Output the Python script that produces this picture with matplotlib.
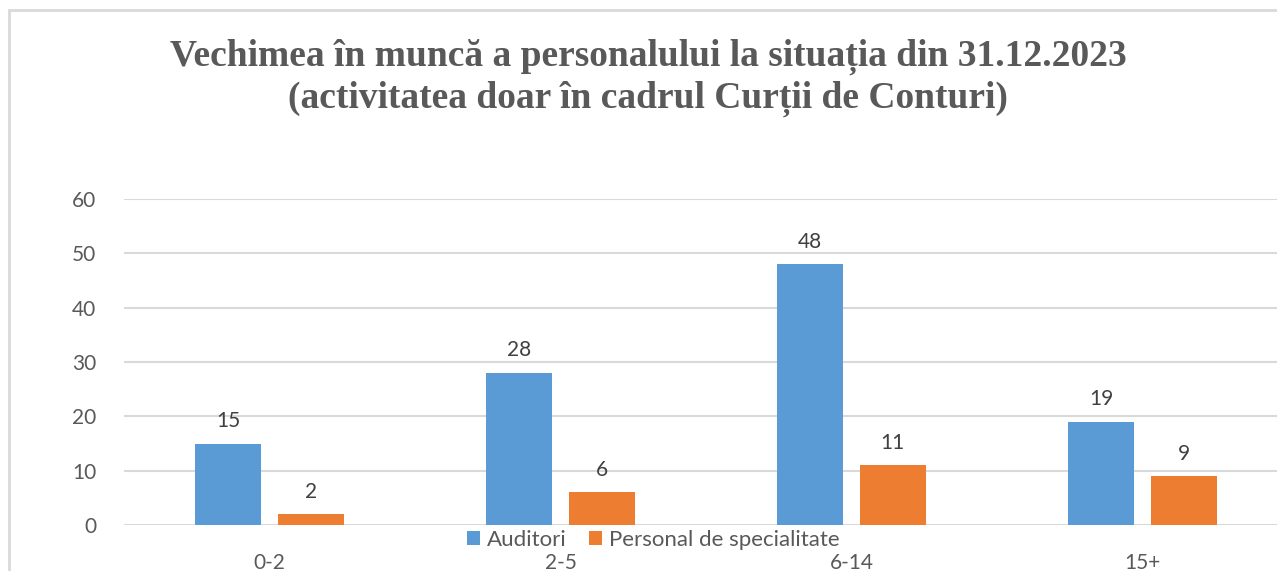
import matplotlib.pyplot as plt
import numpy as np
from matplotlib.patches import Rectangle

categories = ["0-2", "2-5", "6-14", "15+"]
auditori = [15, 28, 48, 19]
personal = [2, 6, 11, 9]
series_names = ["Auditori", "Personal de specialitate"]
title = "Vechimea în muncă a personalului la situația din 31.12.2023\n(activitatea doar în cadrul Curții de Conturi)"

blue = "#5B9BD5"
orange = "#ED7D31"
txt = "#595959"

W, H = 1277, 571
fig = plt.figure(figsize=(W / 100, H / 100), dpi=100)

# chart frame (cropped on right/bottom)
fig.patches.append(Rectangle((9 / W, -0.1), 1.2, 1 - 9 / H + 0.1 - 1 / H,
                             transform=fig.transFigure, fill=False,
                             edgecolor="#d9d9d9", linewidth=2))

# axes: x from 124px, one category = 291px; y 0 at 525px, 60 at 199px
ax = fig.add_axes([124 / W, 1 - 525 / H, 4 * 291 / W, 326 / H])
x = np.arange(len(categories))
w = 0.227
off = 0.142
b1 = ax.bar(x - off, auditori, w, color=blue, label=series_names[0])
b2 = ax.bar(x + off, personal, w, color=orange, label=series_names[1])

for bars, vals in ((b1, auditori), (b2, personal)):
    for r, v in zip(bars, vals):
        ax.text(r.get_x() + r.get_width() / 2, v + 2.3, str(v), ha="center",
                va="bottom", fontsize=15, color="#404040", family="Lato")

ax.set_xlim(-0.5, 3.5)
ax.set_ylim(0, 60)
ax.set_yticks(range(0, 61, 10))
ax.set_xticks(x)
ax.set_xticklabels(categories)
ax.grid(axis="y", color="#d9d9d9", linewidth=1.5)
ax.set_axisbelow(True)
for s in ax.spines.values():
    s.set_visible(False)
ax.tick_params(length=0, labelsize=15, labelcolor=txt, pad=20)
ax.tick_params(axis="x", pad=20)
for t in ax.get_xticklabels() + ax.get_yticklabels():
    t.set_family("Lato")

fig.text(648 / W, 1 - 78 / H, title, ha="center", va="center",
         fontsize=27, fontweight="bold", family="Liberation Serif",
         color=txt, linespacing=1.2)

fig.legend(loc="center", bbox_to_anchor=(653 / W, 1 - 540 / H), ncol=2,
           frameon=False, prop={"family": "Lato", "size": 16},
           labelcolor=txt, handlelength=0.6, handleheight=0.6,
           handletextpad=0.3, columnspacing=1.0, borderpad=0)

fig.savefig("out.png", dpi=100)
